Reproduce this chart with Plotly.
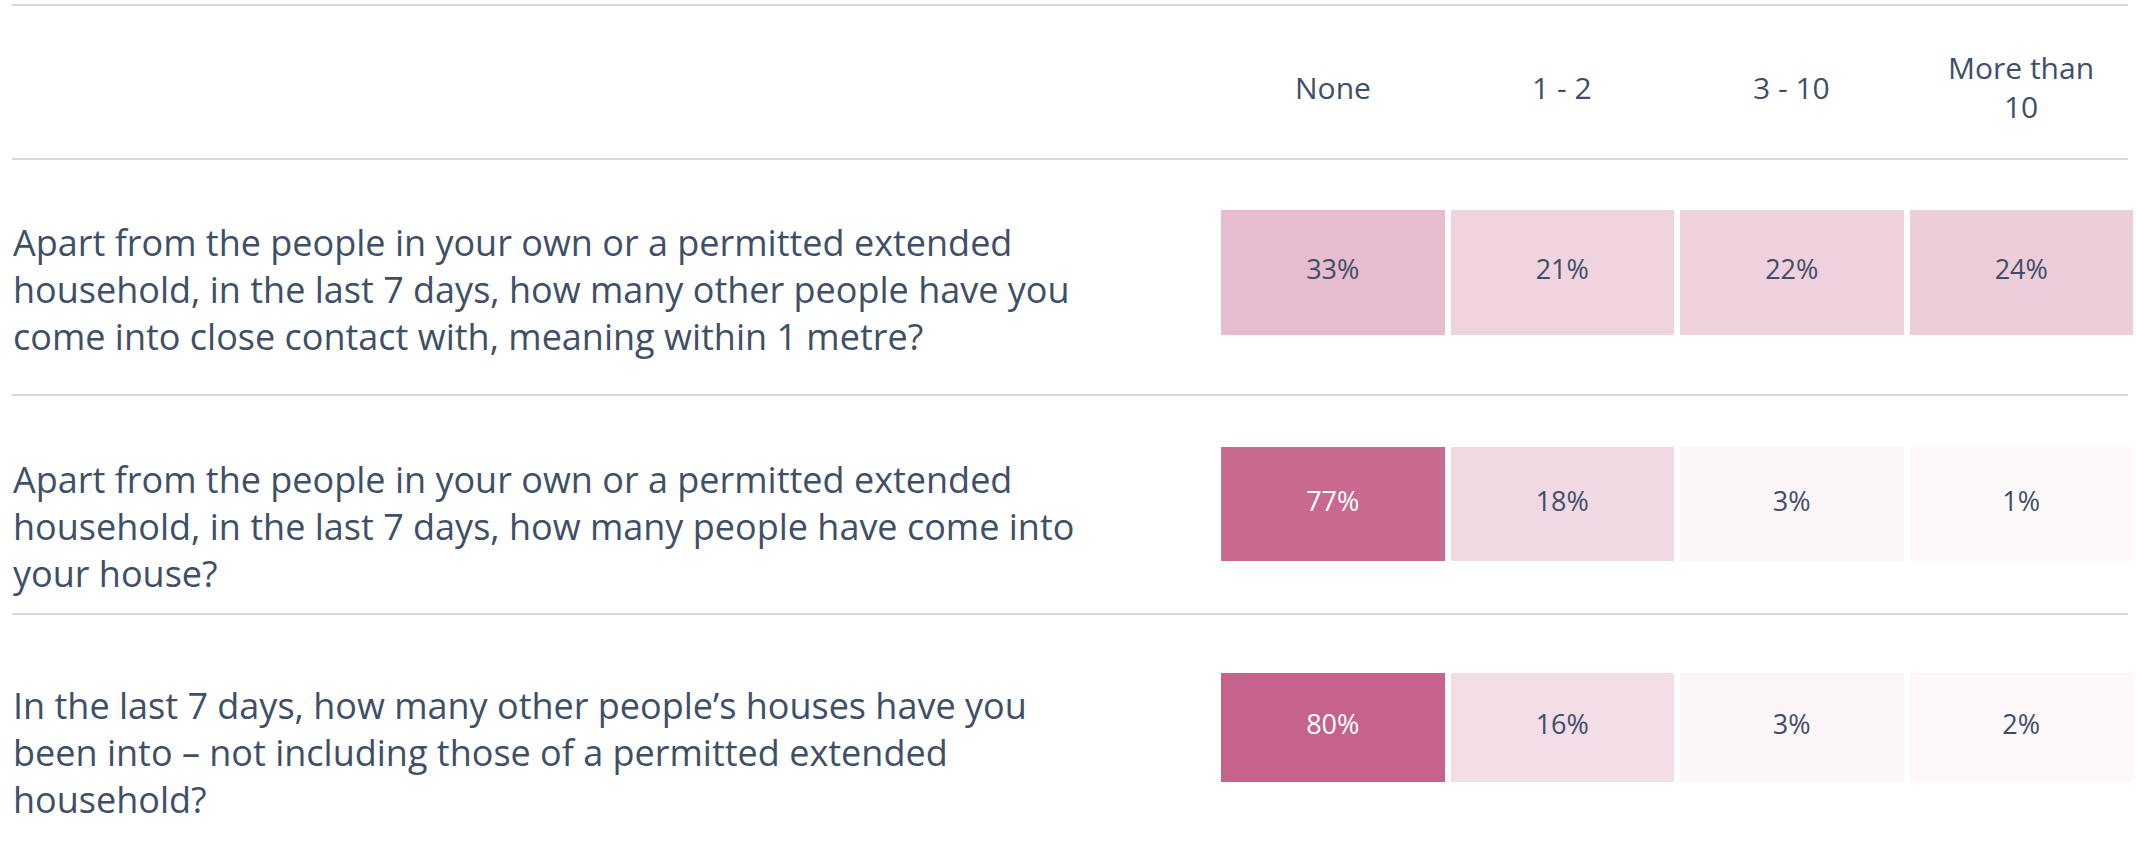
import plotly.graph_objects as go

W, H = 2136, 859

answers = ["None", "1 - 2", "3 - 10", "More than<br>10"]
questions = [
    "Apart from the people in your own or a permitted extended<br>household, in the last 7 days, how many other people have you<br>come into close contact with, meaning within 1 metre?",
    "Apart from the people in your own or a permitted extended<br>household, in the last 7 days, how many people have come into<br>your house?",
    "In the last 7 days, how many other people’s houses have you<br>been into – not including those of a permitted extended<br>household?",
]
q1_values = [33, 21, 22, 24]
q2_values = [77, 18, 3, 1]
q3_values = [80, 16, 3, 2]
all_values = [q1_values, q2_values, q3_values]

TEXT = "#3e4f67"
FONT = "Open Sans"

def py(p):
    return 1 - p / H

# layout geometry (pixels)
cell_rows = [(210, 335), (447, 561), (673, 782)]
text_centers = [289, 526, 752]
sep_lines = [5, 159, 395, 614]
x_dom = [1218 / W, 1.0]

fig = go.Figure()
layout = dict(
    width=W, height=H, margin=dict(l=0, r=0, t=0, b=0),
    paper_bgcolor="white", plot_bgcolor="white",
    showlegend=False,
    coloraxis=dict(colorscale=[[0, "#fefbfc"], [1, "#c6638c"]], cmin=0, cmax=80, showscale=False),
    font=dict(family=FONT, color=TEXT),
)

for i, vals in enumerate(all_values):
    n = "" if i == 0 else str(i + 1)
    xa, ya = "x" + n, "y" + n
    fig.add_trace(go.Heatmap(
        x=answers, y=[0], z=[vals], coloraxis="coloraxis",
        xgap=6, ygap=0, xaxis=xa, yaxis=ya, hoverinfo="skip",
    ))
    fig.add_trace(go.Scatter(
        x=answers, y=[0] * len(vals), mode="text",
        text=[f"{v}%" for v in vals],
        textfont=dict(family=FONT, size=27, color=["white" if v > 50 else TEXT for v in vals]),
        xaxis=xa, yaxis=ya, hoverinfo="skip",
    ))
    top, bot = cell_rows[i]
    layout["xaxis" + n] = dict(domain=x_dom, range=[-0.5, 3.5], visible=False,
                               anchor=ya, type="category", fixedrange=True)
    layout["yaxis" + n] = dict(domain=[py(bot), py(top)], range=[-0.5, 0.5], visible=False,
                               anchor=xa, fixedrange=True)

fig.update_layout(**layout)

annotations = []
for a in answers:
    annotations.append(dict(x=a, xref="x", y=py(87), yref="paper", text=a,
                            showarrow=False, xanchor="center", yanchor="middle",
                            font=dict(family=FONT, size=30, color=TEXT)))
for q, c in zip(questions, text_centers):
    annotations.append(dict(x=11 / W, xref="paper", y=py(c), yref="paper",
                            text=q, showarrow=False, xanchor="left", yanchor="middle",
                            align="left", font=dict(family=FONT, size=36, color=TEXT)))
fig.update_layout(annotations=annotations)

shapes = []
for s in sep_lines:
    shapes.append(dict(type="line", xref="paper", yref="paper", x0=12 / W, x1=2128 / W,
                       y0=py(s), y1=py(s), line=dict(color="#d9d9d9", width=2)))
fig.update_layout(shapes=shapes)

fig.write_html("out.html", config={"displayModeBar": False},
               post_script="document.body.style.margin='0';")
